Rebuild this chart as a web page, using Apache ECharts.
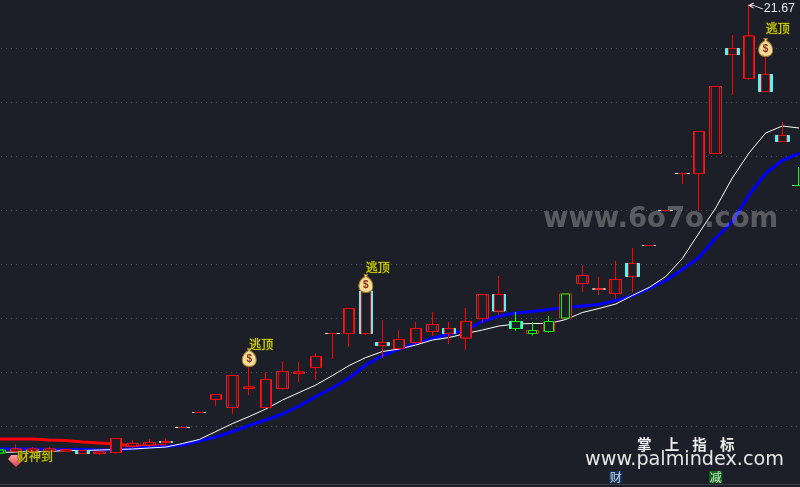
<!DOCTYPE html>
<html>
<head>
<meta charset="utf-8">
<title>K线</title>
<script src="https://cdn.jsdelivr.net/npm/echarts@6/dist/echarts.min.js"></script>
<style>
  html, body { margin: 0; padding: 0; background: #1c1f27; }
  #main { width: 800px; height: 487px; }
</style>
</head>
<body>
<div id="main"></div>
<script>
// 每根K线的价格，从图上读的
const openPrices = [12.69,12.73,12.73,12.73,12.73,12.68,12.68,12.70,12.83,12.85,12.90,13.20,13.50,13.76,13.60,13.98,13.60,13.98,14.28,14.40,15.08,15.08,15.08,14.84,14.78,14.90,15.12,15.08,14.99,15.38,15.53,15.18,15.08,15.12,15.39,16.08,15.97,15.88,16.22,16.84,17.54,18.28,18.28,18.68,20.66,20.18,19.92,18.92,18.04];
const closePrices = [12.75,12.77,12.77,12.77,12.76,12.74,12.71,12.98,12.88,12.90,12.92,13.20,13.50,13.86,14.24,14.01,14.16,14.32,14.31,14.62,15.08,15.58,15.93,14.90,14.96,15.18,15.26,15.18,15.32,15.86,15.86,15.32,15.14,15.32,15.87,16.24,15.97,16.16,16.48,16.84,17.54,18.28,19.12,20.02,20.78,21.03,20.26,19.04,18.04];
const lowPrices = [12.69,12.71,12.69,12.69,12.73,12.68,12.65,12.68,12.79,12.82,12.85,13.20,13.50,13.64,13.48,13.85,13.60,13.95,14.11,14.16,14.57,14.82,15.05,14.60,14.77,14.85,15.03,14.88,14.76,15.30,15.45,15.14,15.04,15.10,15.39,15.92,15.86,15.77,15.92,16.84,17.54,18.07,17.54,18.68,19.85,20.16,19.92,18.92,18.04];
const highPrices = [12.75,12.87,12.81,12.81,12.76,12.74,12.73,12.99,12.95,12.97,12.99,13.20,13.50,13.86,14.24,14.71,14.31,14.52,14.51,14.68,15.08,15.58,16.15,15.35,15.15,15.31,15.51,15.31,15.59,15.86,16.22,15.51,15.31,15.43,15.87,16.45,16.21,16.53,16.79,16.84,17.54,18.28,19.12,20.02,21.05,21.67,20.75,19.31,18.41];
// r 红 c 青边 w 白头 g 绿 cg 青边绿 rg 红边绿 wg 白头绿
const candleKinds = ['g','r','r','r','r','c','r','r','r','r','c','w','w','r','r','r','r','r','r','r','w','r','c','c','r','r','r','c','r','r','c','cg','rg','rg','rg','r','w','r','c','w','w','w','r','r','c','r','c','c','wg'];

const whiteLine = [12.70,12.71,12.72,12.72,12.74,12.74,12.75,12.76,12.77,12.79,12.81,12.88,12.96,13.12,13.28,13.42,13.57,13.75,13.90,14.05,14.24,14.44,14.60,14.72,14.77,14.85,14.95,15.00,15.08,15.15,15.23,15.27,15.28,15.28,15.36,15.50,15.58,15.67,15.84,16.00,16.22,16.58,17.09,17.59,18.19,18.69,19.09,19.23,19.19];
const blueLine = [12.77,12.77,12.77,12.76,12.76,12.76,12.75,12.75,12.78,12.81,12.82,12.85,12.93,13.01,13.12,13.24,13.35,13.47,13.63,13.82,13.99,14.19,14.45,14.64,14.77,14.88,14.98,15.07,15.15,15.32,15.43,15.49,15.52,15.56,15.60,15.63,15.66,15.74,15.83,15.98,16.14,16.36,16.60,16.99,17.31,17.85,18.28,18.54,18.68];
const redLine = [12.97,12.97,12.95,12.94,12.91,12.89,12.87,12.83,12.83,12.84,12.84];

const signalIndex = [15, 22, 46];
const bagPrices = [14.60, 16.08, 20.80];
const signalTextPrices = [14.87, 16.40, 21.19];
const peakIndex = 45;
const peakPrice = 21.67;
const flagIndex = [37, 43];
const flagPrice = 12.21;
const flagText = ['财', '减'];
const flagColors = ['#0c3a6e', '#0a7a10'];

const categories = openPrices.map((v, i) => String(i));
const bg = '#1c1f27';

const kindColors = {
  r:  { outer: '#e02424', inner: '#ff0000' },
  c:  { edge: '#55f5f5', edgeFill: '#55f5f5', inner: '#ff0000' },
  w:  { edge: '#ffffff', edgeFill: bg, inner: '#ff0000' },
  g:  { outer: '#00e000', inner: '#00ff00' },
  cg: { edge: '#55f5f5', edgeFill: '#55f5f5', inner: '#00ff00' },
  rg: { outer: '#e02424', inner: '#00ff00' },
  wg: { edge: '#ffffff', edgeFill: bg, inner: '#00ff00' }
};

function candleItem(i, stroke, fill) {
  return {
    value: [openPrices[i], closePrices[i], lowPrices[i], highPrices[i]],
    itemStyle: {
      color: fill, color0: fill,
      borderColor: stroke, borderColor0: stroke, borderColorDoji: stroke,
      borderWidth: 1
    }
  };
}
const emptyCandle = { value: ['-', '-', '-', '-'] };

// 青边和白头是最宽的一层，其余是外框+内框两层
const edgeData = categories.map((c, i) => {
  const k = kindColors[candleKinds[i]];
  return k.edge ? candleItem(i, k.edge, k.edgeFill) : emptyCandle;
});
const outerData = categories.map((c, i) => {
  const k = kindColors[candleKinds[i]];
  return k.outer ? candleItem(i, k.outer, bg) : emptyCandle;
});
const innerData = categories.map((c, i) => candleItem(i, kindColors[candleKinds[i]].inner, bg));

const bagPath = 'path://M38 0 L62 0 L56 14 C85 28 100 55 100 78 C100 108 75 120 50 120 C25 120 0 108 0 78 C0 55 15 28 44 14 Z';
const gemPath = 'path://M20 0 L80 0 L100 28 L50 80 L0 28 Z';
const arrowPath = 'path://M0 3 L5 0 M0 3 L5 6 M0 3 L5 3 L15 7';

const flagSeries = flagIndex.map((x, i) => ({
  name: 'flag' + i, type: 'scatter', z: 9,
  data: [[x, flagPrice]],
  symbolSize: 1,
  itemStyle: { color: flagColors[i] },
  label: {
    show: true, position: 'inside', formatter: '{a|' + flagText[i] + '}',
    rich: {
      a: {
        color: '#ffffff', fontSize: 12, fontFamily: 'Noto Sans CJK SC',
        backgroundColor: flagColors[i], width: 13, height: 12, lineHeight: 12, align: 'center'
      }
    }
  }
}));

const option = {
  backgroundColor: bg,
  animation: false,
  grid: { left: -9, top: 0, width: 816.3, height: 480, containLabel: false, outerBoundsMode: 'none' },
  xAxis: { type: 'category', data: categories, show: false, boundaryGap: true },
  yAxis: [
    { type: 'value', min: 12.15, max: 21.75, show: false, splitLine: { show: false } },
    {
      // 只负责画虚线网格，每54像素一格
      type: 'value', min: 0, max: 480 / 54, interval: 1,
      axisLine: { show: false }, axisTick: { show: false }, axisLabel: { show: false },
      splitLine: {
        show: true, showMinLine: false, showMaxLine: false,
        lineStyle: { color: '#4b4e56', width: 1, type: [1, 4] }
      }
    }
  ],
  series: [
    {
      name: 'red', type: 'line', data: redLine, step: 'end', symbol: 'none', z: 2,
      lineStyle: { color: '#ff0000', width: 3 }
    },
    {
      name: 'blue', type: 'line', data: blueLine, symbol: 'none', z: 2,
      lineStyle: { color: '#0000ff', width: 3 }
    },
    {
      name: 'white', type: 'line', data: whiteLine, symbol: 'none', z: 3,
      lineStyle: { color: '#ffffff', width: 1 }
    },
    { name: 'edge', type: 'candlestick', data: edgeData, barWidth: 14, z: 4 },
    { name: 'outer', type: 'candlestick', data: outerData, barWidth: 12, z: 4 },
    { name: 'inner', type: 'candlestick', data: innerData, barWidth: 9, z: 5 },
    {
      name: 'bag', type: 'scatter', z: 7,
      data: signalIndex.map((x, i) => [x, bagPrices[i]]),
      symbol: bagPath, symbolSize: [14, 18],
      itemStyle: { color: '#f3dc96', borderColor: '#a8782a', borderWidth: 1, opacity: 1 },
      label: {
        show: true, position: 'inside', offset: [0, 2], formatter: '$',
        color: '#8c2f1a', fontSize: 10, fontWeight: 'bold', fontFamily: 'Liberation Sans'
      }
    },
    {
      name: 'signalText', type: 'scatter', z: 8,
      data: signalIndex.map((x, i) => [x, signalTextPrices[i]]),
      symbolSize: 0,
      label: {
        show: true, position: 'right', distance: 0, formatter: '逃顶',
        color: '#ffff00', fontSize: 12, fontFamily: 'Noto Sans CJK SC',
        textBorderColor: '#5a5a00', textBorderWidth: 1
      }
    },
    {
      name: 'peak', type: 'scatter', z: 8,
      data: [[peakIndex, peakPrice]],
      symbol: arrowPath, symbolSize: [14, 6], symbolOffset: [7, 2],
      itemStyle: { color: 'rgba(0,0,0,0)', borderColor: '#ffffff', borderWidth: 1, opacity: 1 },
      label: {
        show: true, position: 'right', distance: 0, formatter: String(peakPrice),
        offset: [0, 3], color: '#dfeaf5', fontSize: 12.5, fontFamily: 'Liberation Sans'
      }
    },
    {
      name: 'gem', type: 'scatter', z: 8,
      data: [[1, 12.53]],
      symbol: gemPath, symbolSize: [16, 12],
      itemStyle: {
        color: new echarts.graphic.LinearGradient(0, 0, 0, 1, [
          { offset: 0, color: '#f9a0a0' }, { offset: 1, color: '#e8404c' }
        ]),
        opacity: 1
      }
    },
    {
      name: 'gemText', type: 'scatter', z: 9,
      data: [[1, 12.63]],
      symbolSize: 0,
      label: {
        show: true, position: 'right', distance: 1, formatter: '财神到',
        color: '#e8e800', fontSize: 12, fontFamily: 'Noto Sans CJK SC',
        textBorderColor: '#5a5a00', textBorderWidth: 1
      }
    }
  ].concat(flagSeries),
  graphic: [
    { type: 'rect', z: 1, shape: { x: 0, y: 484, width: 800, height: 1 }, style: { fill: '#3a3f49' } },
    {
      type: 'text', z: 100, x: 543, y: 206,
      style: { text: 'www.6o7o.com', fill: 'rgba(255,255,255,0.27)', font: 'bold 27.5px "DejaVu Sans"' }
    },
    {
      type: 'text', z: 100, x: 637, y: 437,
      style: { text: '掌    上    指    标', fill: '#f0f0f0', font: 'bold 14.5px "Noto Sans CJK SC"' }
    },
    {
      type: 'text', z: 100, x: 585, y: 451,
      style: { text: 'www.palmindex.com', fill: '#e6e6e6', font: '19.2px "DejaVu Sans"' }
    }
  ]
};

const chart = echarts.init(document.getElementById('main'), null, { renderer: 'canvas' });
chart.setOption(option);
</script>
</body>
</html>
